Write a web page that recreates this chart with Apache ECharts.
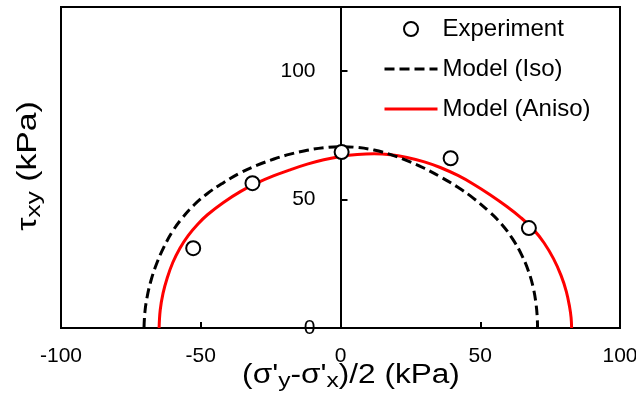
<!DOCTYPE html>
<html>
<head>
<meta charset="utf-8">
<script src="https://cdn.jsdelivr.net/npm/echarts@6/dist/echarts.min.js"></script>
<style>
html,body{margin:0;padding:0;background:#fff;}
#chart{width:636px;height:400px;}
</style>
</head>
<body>
<div id="chart"></div>
<script>
// Data
var xTicks = [-100, -50, 0, 50, 100];
var yTicks = [0, 50, 100];

var expX = [-52.7, -31.5, 0.4, 39.4, 67.4];
var expY = [31.1, 56.4, 68.5, 66.1, 38.9];

var isoX = [-70.3,-70,-69.2,-67.8,-65.8,-63.2,-60,-56.5,-52.5,-47.6,-42,-35.7,-30,-23.8,-18,-11.9,-6,0,6,12,18,23.8,30,35.7,42,47.6,53,57.5,61.5,64.8,67.3,69,70,70.4,70.5];
var isoY = [0,6,12,18.5,25,31.5,37.8,43,47.8,52.4,56.5,60.5,63.3,65.8,67.7,69.2,70.2,70.6,70.3,69.3,67.5,65.2,62.2,58.9,54.8,50.5,45.5,40.6,34.8,28.5,22,15.5,9,4,0];

var anisoX = [-64.9,-64.5,-63.5,-62,-60,-57.5,-54.5,-51,-47.6,-42,-35.7,-30,-23.8,-18,-11.9,-6,0,6,12,18,23.8,30,35.7,42,47.6,53.5,59.5,64.5,69,72.8,76.2,78.9,80.8,82,82.5,82.7];
var anisoY = [0,7,13.5,19.5,25.5,31,36,40.5,44.1,48.8,53.2,56.4,59.3,61.6,63.8,65.5,66.8,67.6,67.9,67.5,66.4,64.7,62.5,59.4,56,51.9,47.3,43,38.4,33.2,27,20.5,14.2,8,4,0];

var seriesNames = ['Experiment', 'Model (Iso)', 'Model (Aniso)'];
var xTitle = "(σ'{sub|y}-σ'{sub|x})/2 (kPa)";
var yTitle = 'τ{sub|xy} (kPa)';

function pairs(xs, ys) { return xs.map(function (x, i) { return [x, ys[i]]; }); }

var FONT = '"Liberation Sans", Arial, sans-serif';
var titleStyle = function (txt) {
  return {
    text: txt, x: 0, y: 0, fontSize: 27, fontFamily: FONT, fill: '#000',
    align: 'center', verticalAlign: 'middle', lineHeight: 32,
    rich: {sub: {fontSize: 21, lineHeight: 10, verticalAlign: 'bottom', fontFamily: FONT, fill: '#000'}}
  };
};

var chart = echarts.init(document.getElementById('chart'), null, {renderer: 'canvas'});
chart.setOption({
  animation: false,
  backgroundColor: '#fff',
  textStyle: {fontFamily: FONT, color: '#000'},
  grid: {left: 61, right: 16, top: 7, bottom: 72, show: true, borderColor: '#000', borderWidth: 2,
         containLabel: false, outerBoundsMode: 'none'},
  legend: {
    orient: 'vertical', left: 378, top: 12, itemGap: 16, itemWidth: 53, itemHeight: 14,
    textStyle: {fontSize: 24, fontFamily: FONT, color: '#000', lineHeight: 24},
    lineStyle: {width: 3},
    data: [
      {name: seriesNames[0]},
      {name: seriesNames[1], itemStyle: {opacity: 0}},
      {name: seriesNames[2], itemStyle: {opacity: 0}}
    ]
  },
  xAxis: {
    type: 'value', min: xTicks[0], max: xTicks[xTicks.length - 1], interval: 50,
    axisLine: {onZero: false, lineStyle: {color: '#000', width: 2}},
    axisTick: {inside: true, length: 6, lineStyle: {color: '#000', width: 2}},
    axisLabel: {fontSize: 21, color: '#000', margin: 18, fontFamily: FONT},
    splitLine: {show: false}
  },
  yAxis: {
    type: 'value', min: 0, max: 125, interval: 50, position: 'left', offset: -279.5,
    axisLine: {onZero: false, lineStyle: {color: '#000', width: 2}},
    axisTick: {inside: true, length: 7, lineStyle: {color: '#000', width: 2}},
    axisLabel: {fontSize: 21, color: '#000', margin: 25, fontFamily: FONT,
      formatter: function (v) { return yTicks.indexOf(v) >= 0 ? String(v) : ''; }},
    splitLine: {show: false}
  },
  graphic: [
    {type: 'text', x: 351, y: 376, scaleX: 1.17, silent: true, style: titleStyle(xTitle)},
    {type: 'text', x: 29, y: 166, rotation: Math.PI / 2, scaleX: 1.25, silent: true, style: titleStyle(yTitle)}
  ],
  series: [{
    name: seriesNames[0], type: 'scatter', z: 5,
    symbol: 'circle', symbolSize: 14,
    itemStyle: {color: '#fff', borderColor: '#000', borderWidth: 2, opacity: 1},
    data: pairs(expX, expY)
  }, {
    name: seriesNames[1], type: 'line', z: 3, symbol: 'none', smooth: 0.4,
    lineStyle: {color: '#000', width: 3, type: [10, 5]},
    itemStyle: {color: '#000'},
    data: pairs(isoX, isoY)
  }, {
    name: seriesNames[2], type: 'line', z: 2, symbol: 'none', smooth: 0.4,
    lineStyle: {color: '#ff0000', width: 3},
    itemStyle: {color: '#ff0000'},
    data: pairs(anisoX, anisoY)
  }]
});
</script>
</body>
</html>
